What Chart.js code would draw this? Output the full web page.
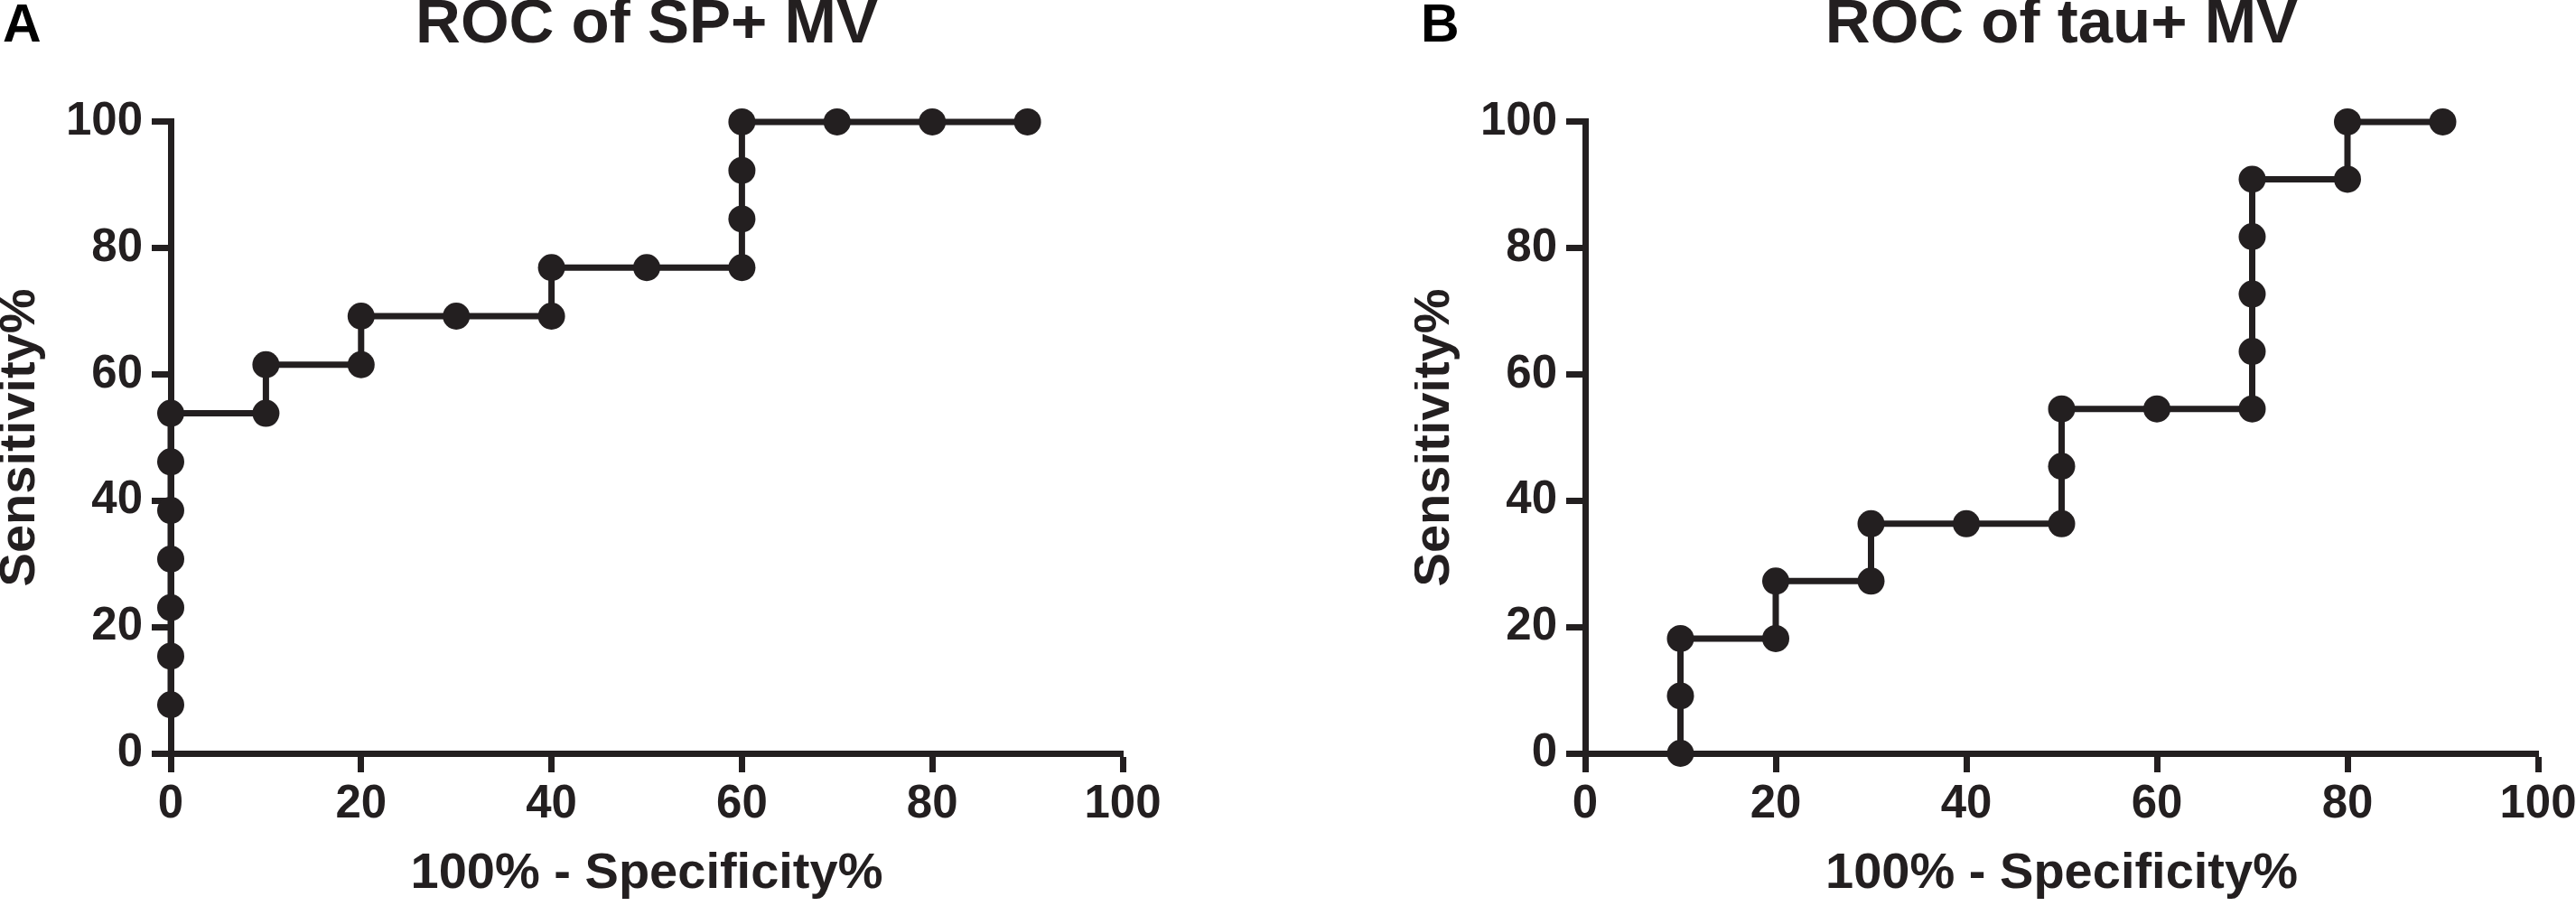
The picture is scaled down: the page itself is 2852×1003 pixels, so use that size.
<!DOCTYPE html>
<html>
<head>
<meta charset="utf-8">
<script src="https://cdn.jsdelivr.net/npm/chart.js@4/dist/chart.umd.min.js"></script>
<style>
  html, body { margin: 0; padding: 0; background: #fff; }
  body { width: 2852px; height: 1003px; position: relative; overflow: hidden; }
  .panel { position: absolute; top: 0; }
  .letter { position: absolute; top: -9px; font-family: 'Liberation Sans', Arial, sans-serif; font-weight: bold; font-size: 59px; color: #000; line-height: 1.2; z-index: 2; }
</style>
</head>
<body>
<div class="panel" style="left:0px;"><canvas id="chartA" width="1303" height="1003"></canvas></div>
<div class="panel" style="left:1566px;"><canvas id="chartB" width="1304" height="1003"></canvas></div>
<div class="letter" style="left:3px;">A</div>
<div class="letter" style="left:1573px;">B</div>
<script>
// ---- Data ----
const titleA = 'ROC of SP+ MV';
const titleB = 'ROC of tau+ MV';
const xTitle = '100% - Specificity%';
const yTitle = 'Sensitivity%';
const tickValues = [0, 20, 40, 60, 80, 100];

// Panel A: ROC of SP+ MV (x = 100% - Specificity%, y = Sensitivity%)
const xA = [0, 0, 0, 0, 0, 0, 0, 10, 10, 20, 20, 30, 40, 40, 50, 60, 60, 60, 60, 70, 80, 90];
const yA = [7.69, 15.38, 23.08, 30.77, 38.46, 46.15, 53.85, 53.85, 61.54, 61.54, 69.23, 69.23, 69.23, 76.92, 76.92, 76.92, 84.62, 92.31, 100, 100, 100, 100];

// Panel B: ROC of tau+ MV
const xB = [10, 10, 10, 20, 20, 30, 30, 40, 50, 50, 50, 60, 70, 70, 70, 70, 70, 80, 80, 90];
const yB = [0, 9.09, 18.18, 18.18, 27.27, 27.27, 36.36, 36.36, 36.36, 45.45, 54.55, 54.55, 54.55, 63.64, 72.73, 81.82, 90.91, 90.91, 100, 100];

// ---- Styling ----
const INK = '#231f20';
const FONT = "'Liberation Sans', Arial, Helvetica, sans-serif";

function makeChart(id, title, xs, ys) {
  const pts = xs.map((x, i) => ({ x: x, y: ys[i] }));
  const axisCommon = {
    type: 'linear',
    min: 0,
    max: 100,
    border: { display: true, color: INK, width: 7 },
    grid: { display: true, drawOnChartArea: false, drawTicks: true, tickLength: 21, tickWidth: 7, tickColor: INK, color: INK },
    afterBuildTicks: (scale) => { scale.ticks = tickValues.map(v => ({ value: v })); }
  };
  return new Chart(document.getElementById(id), {
    type: 'line',
    data: {
      datasets: [{
        data: pts,
        borderColor: INK,
        borderWidth: 7,
        backgroundColor: INK,
        pointRadius: 15,
        pointHoverRadius: 15,
        pointBackgroundColor: INK,
        pointBorderWidth: 0,
        tension: 0,
        fill: false,
        clip: false
      }]
    },
    options: {
      responsive: false,
      animation: false,
      devicePixelRatio: 1,
      layout: { padding: { left: 0, right: 60, top: 0, bottom: 0 } },
      plugins: {
        legend: { display: false },
        tooltip: { enabled: false },
        title: {
          display: true,
          text: title,
          color: INK,
          fullSize: false,
          font: { family: FONT, size: 69, weight: 'bold', lineHeight: 0.81 },
          padding: { top: 0, bottom: 79 }
        }
      },
      scales: {
        x: Object.assign({}, axisCommon, {
          position: 'bottom',
          ticks: { color: INK, padding: 5, maxRotation: 0, autoSkip: false, font: { family: FONT, size: 51, weight: 'bold', lineHeight: 1.2 } },
          title: { display: true, text: xTitle, color: INK, font: { family: FONT, size: 56, weight: 'bold', lineHeight: 1 }, padding: { top: 0, bottom: 7 } },
          afterFit: (scale) => { scale.height = 169; }
        }),
        y: Object.assign({}, axisCommon, {
          position: 'left',
          ticks: { color: INK, padding: 10, autoSkip: false, font: { family: FONT, size: 51, weight: 'bold', lineHeight: 1.2 } },
          title: { display: true, text: yTitle, color: INK, font: { family: FONT, size: 56, weight: 'bold', lineHeight: 0.82 }, padding: { top: 0, bottom: 0 } },
          afterFit: (scale) => { scale.width = 189; }
        })
      }
    }
  });
}

makeChart('chartA', titleA, xA, yA);
makeChart('chartB', titleB, xB, yB);
</script>
</body>
</html>
